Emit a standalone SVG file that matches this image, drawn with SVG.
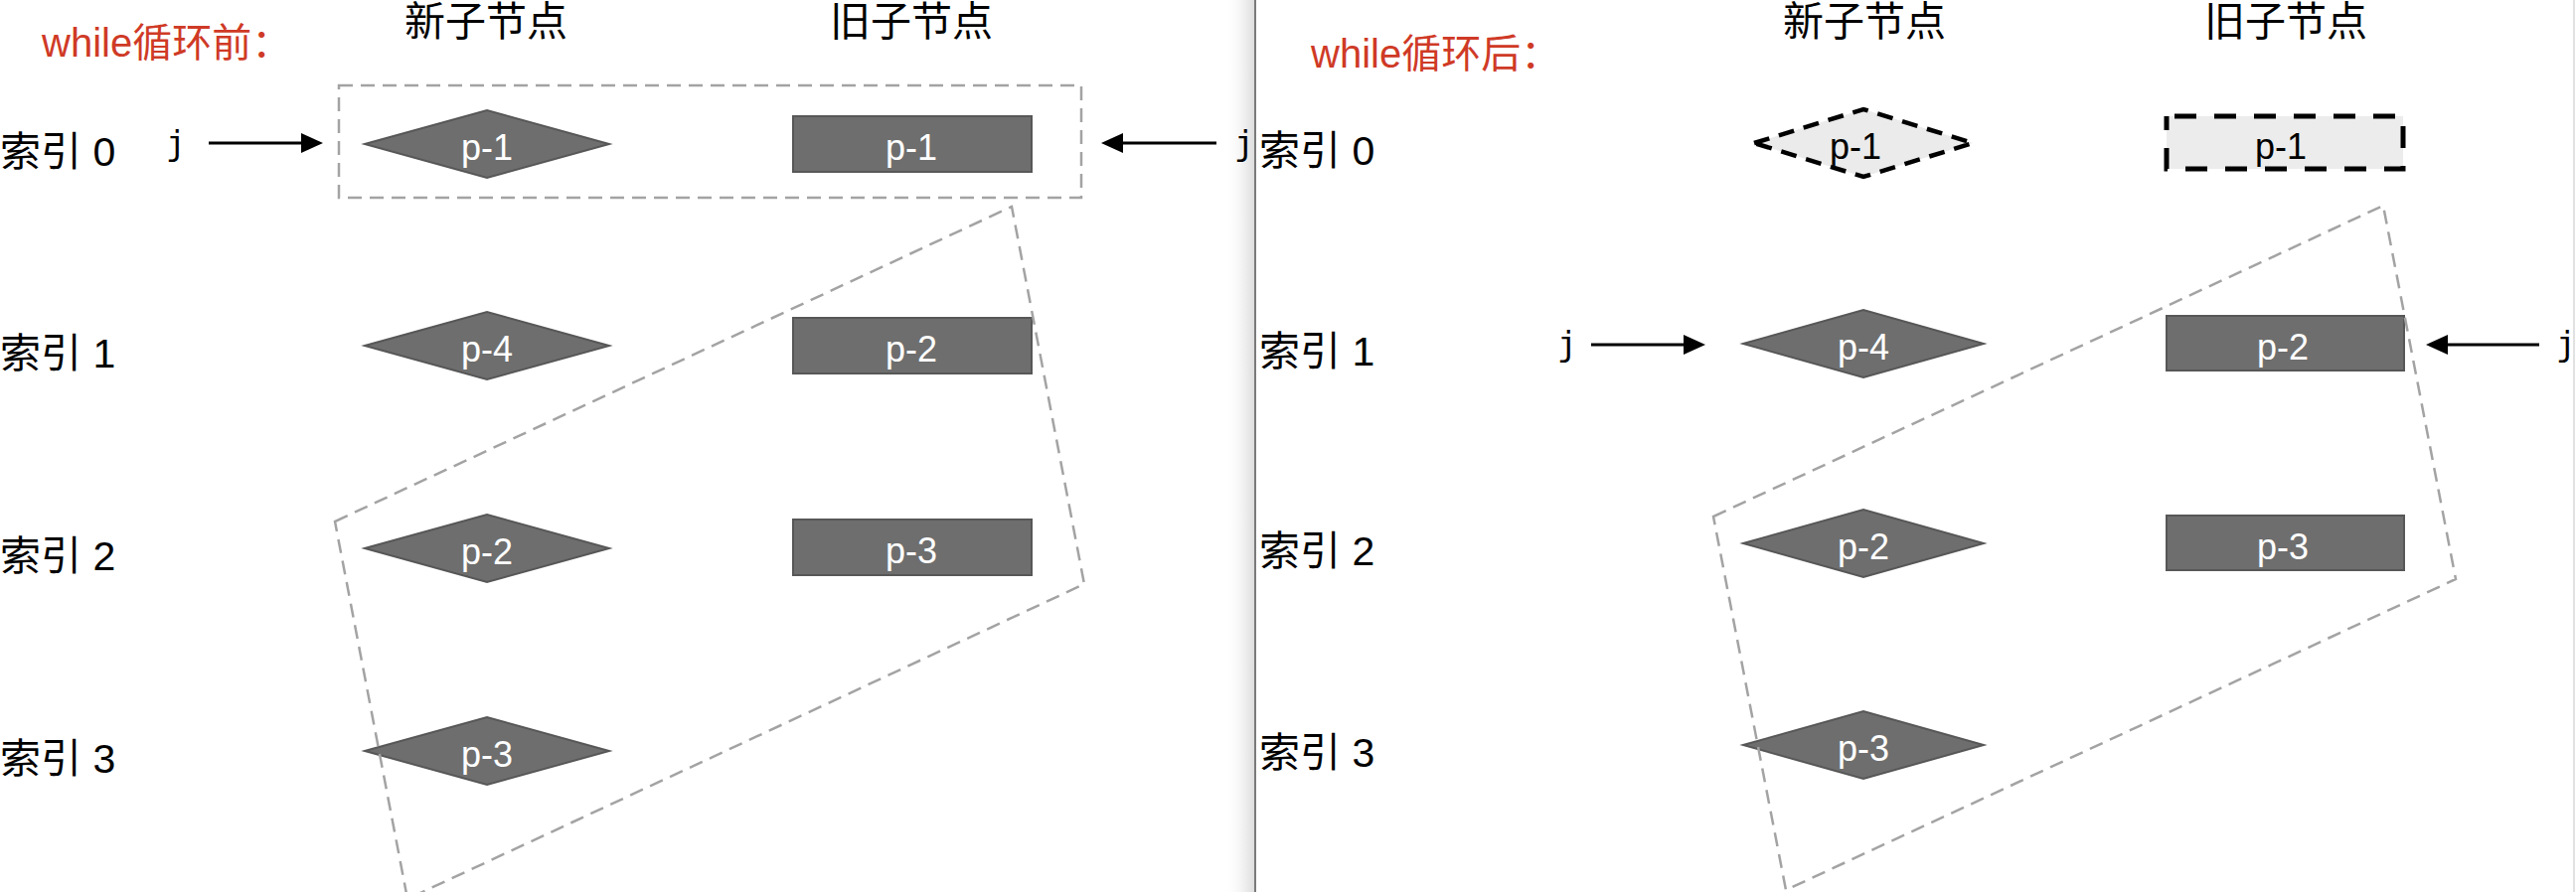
<svg xmlns="http://www.w3.org/2000/svg" width="2592" height="898" viewBox="0 0 2592 898">
<defs>
<marker id="ah" markerUnits="userSpaceOnUse" markerWidth="22" markerHeight="20" refX="0" refY="10" orient="auto"><path d="M0,0 L22,10 L0,20 z" fill="#000"/></marker>
<linearGradient id="shadow" x1="0" x2="1" y1="0" y2="0"><stop offset="0" stop-color="#ffffff" stop-opacity="0"/><stop offset="1" stop-color="#dcdcdc"/></linearGradient>
</defs>
<style>
.t{font-family:"Liberation Sans","Noto Sans CJK SC",sans-serif}
.idx{font-size:41px;fill:#000}
.hdr{font-size:41px;fill:#000;text-anchor:middle}
.title{font-size:40px;fill:#cf3a26}
.nt{font-size:36px;fill:#fff;text-anchor:middle}
.ntd{font-size:36px;fill:#000;text-anchor:middle}
.shape{fill:#6e6e6e;stroke:#575757;stroke-width:2}
.ghostd{fill:#ebebeb;stroke:#000;stroke-width:4.5;stroke-dasharray:16 10}
.ghostr{fill:#ececec;stroke:#000;stroke-width:5;stroke-dasharray:22 18;stroke-dashoffset:32}
.grp{fill:none;stroke:#a3a3a3;stroke-width:2.5;stroke-dasharray:14 8}
.jt{font-family:"DejaVu Sans Mono","Liberation Mono",monospace;font-size:34px;fill:#000;text-anchor:middle}
.arr{stroke:#000;stroke-width:3;fill:none;marker-end:url(#ah)}
</style>
<rect x="0" y="0" width="2592" height="898" fill="#fff"/>
<g id="divider">
<rect x="1232" y="0" width="30" height="898" fill="url(#shadow)"/>
<line x1="1263" y1="0" x2="1263" y2="898" stroke="#7a7a7a" stroke-width="2"/>
<line x1="2590" y1="0" x2="2590" y2="898" stroke="#e2e2e2" stroke-width="2"/>
</g>

<g id="left-labels" class="t">
<text class="title" x="42" y="57">while循环前：</text>
<text class="hdr" x="489" y="36">新子节点</text>
<text class="hdr" x="917" y="36">旧子节点</text>
<text class="idx" x="0" y="167">索引 0</text>
<text class="idx" x="0" y="370">索引 1</text>
<text class="idx" x="0" y="574">索引 2</text>
<text class="idx" x="0" y="778">索引 3</text>
</g>

<g id="L-new-0"><path class="shape" d="M367,145 L490,111 L613,145 L490,179 Z"/><text class="t nt" x="490" y="161">p-1</text></g>
<g id="L-new-1"><path class="shape" d="M367,348 L490,314 L613,348 L490,382 Z"/><text class="t nt" x="490" y="364">p-4</text></g>
<g id="L-new-2"><path class="shape" d="M367,552 L490,518 L613,552 L490,586 Z"/><text class="t nt" x="490" y="568">p-2</text></g>
<g id="L-new-3"><path class="shape" d="M367,756 L490,722 L613,756 L490,790 Z"/><text class="t nt" x="490" y="772">p-3</text></g>
<g id="L-old-0"><rect class="shape" x="798" y="117" width="240" height="56"/><text class="t nt" x="917" y="161">p-1</text></g>
<g id="L-old-1"><rect class="shape" x="798" y="320" width="240" height="56"/><text class="t nt" x="917" y="364">p-2</text></g>
<g id="L-old-2"><rect class="shape" x="798" y="523" width="240" height="56"/><text class="t nt" x="917" y="567">p-3</text></g>

<g id="L-groups">
<rect class="grp" x="341" y="86" width="747" height="113"/>
<polygon class="grp" points="337,525 1018,208 1091,588 410,905"/>
</g>

<g id="right-labels" class="t">
<text class="title" x="1319" y="68">while循环后：</text>
<text class="hdr" x="1876" y="36">新子节点</text>
<text class="hdr" x="2300" y="36">旧子节点</text>
<text class="idx" x="1267" y="166">索引 0</text>
<text class="idx" x="1267" y="368">索引 1</text>
<text class="idx" x="1267" y="569">索引 2</text>
<text class="idx" x="1267" y="772">索引 3</text>
</g>

<g id="R-new-0"><path class="ghostd" d="M1765,144 L1875,110 L1985,144 L1875,178 Z"/><text class="t ntd" x="1867" y="160">p-1</text></g>
<g id="R-new-1"><path class="shape" d="M1754,346 L1875,312 L1996,346 L1875,380 Z"/><text class="t nt" x="1875" y="362">p-4</text></g>
<g id="R-new-2"><path class="shape" d="M1754,547 L1875,513 L1996,547 L1875,581 Z"/><text class="t nt" x="1875" y="563">p-2</text></g>
<g id="R-new-3"><path class="shape" d="M1754,750 L1875,716 L1996,750 L1875,784 Z"/><text class="t nt" x="1875" y="766">p-3</text></g>
<g id="R-old-0"><rect class="ghostr" x="2180" y="117" width="238" height="53"/><text class="t ntd" x="2295" y="160">p-1</text></g>
<g id="R-old-1"><rect class="shape" x="2180" y="318" width="239" height="55"/><text class="t nt" x="2297" y="362">p-2</text></g>
<g id="R-old-2"><rect class="shape" x="2180" y="519" width="239" height="55"/><text class="t nt" x="2297" y="563">p-3</text></g>

<g id="R-groups">
<polygon class="grp" points="1724,520 2398,207 2471,583 1797,896"/>
</g>

<g id="pointer-labels">
<text class="jt" x="177" y="156">j</text>
<text class="jt" x="1252" y="156">j</text>
<text class="jt" x="1577" y="358">j</text>
<text class="jt" x="2582" y="358">j</text>
</g>
<g id="connectors">
<line class="arr" x1="210" y1="144" x2="303" y2="144"/>
<line class="arr" x1="1224" y1="144" x2="1130" y2="144"/>
<line class="arr" x1="1601" y1="347" x2="1694" y2="347"/>
<line class="arr" x1="2555" y1="347" x2="2463" y2="347"/>
</g>
</svg>
